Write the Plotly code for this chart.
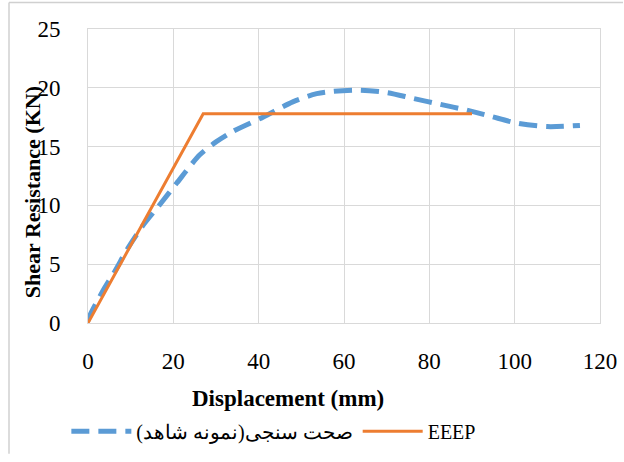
import plotly.graph_objects as go

# Validation (control specimen) curve
test_x = [0, 0.5, 3.6, 6.3, 9.4, 12.9, 16.9, 20.8, 26.2, 30, 34, 41, 48, 53.6, 57.4, 63.7, 70, 76.2, 82.5, 88.8, 94.2, 100.5, 107.6, 115.3]
test_y = [0.2, 0.7, 2.8, 4.4, 6.4, 8.3, 10.1, 11.9, 14.3, 15.4, 16.3, 17.5, 18.8, 19.5, 19.7, 19.8, 19.6, 19.1, 18.6, 18.1, 17.6, 17.0, 16.7, 16.8]

# EEEP bilinear curve
eeep_x = [0, 27, 90]
eeep_y = [0, 17.8, 17.8]

x_ticks = [0, 20, 40, 60, 80, 100, 120]
y_ticks = [0, 5, 10, 15, 20, 25]

series_names = ["صحت سنجی(نمونه شاهد)\u200f", "EEEP"]
x_title = "<b>Displacement (mm)</b>"
y_title = "<b>Shear Resistance (KN)</b>"

font_family = "Liberation Serif, Times New Roman, serif"
grid_col = "#d9d9d9"

fig = go.Figure()
fig.add_trace(go.Scatter(
    x=test_x, y=test_y, mode="lines", name=series_names[0],
    line=dict(color="#5B9BD5", width=5, dash="18px,9px", shape="spline", smoothing=0.8),
))
fig.add_trace(go.Scatter(
    x=eeep_x, y=eeep_y, mode="lines", name=series_names[1],
    line=dict(color="#ED7D31", width=3),
))

px = lambda v: (v - 88) / 512
py = lambda v: (328 - v) / 299
border = dict(color="#d0d0d0", width=1.5)

fig.update_layout(
    width=624, height=462,
    margin=dict(l=88, r=24, t=29, b=134),
    paper_bgcolor="white", plot_bgcolor="white",
    font=dict(family=font_family, size=23, color="black"),
    showlegend=True,
    legend=dict(orientation="h", x=0.363, xanchor="center", y=py(438), yanchor="middle",
                font=dict(size=20, family=font_family), itemwidth=60,
                bgcolor="rgba(0,0,0,0)"),
    xaxis=dict(range=[0, 120], tickvals=x_ticks, showgrid=True, gridcolor=grid_col, gridwidth=1,
               showline=True, linecolor=grid_col, linewidth=1, mirror=True, zeroline=False,
               ticks="", ticklabelstandoff=17, automargin=False),
    yaxis=dict(range=[0, 25], tickvals=y_ticks, showgrid=True, gridcolor=grid_col, gridwidth=1,
               showline=True, linecolor=grid_col, linewidth=1, mirror=True, zeroline=False,
               ticks="", ticklabelstandoff=22, automargin=False),
    annotations=[
        dict(text=x_title, xref="paper", yref="paper", x=px(288), y=py(405),
             xanchor="center", yanchor="middle", showarrow=False, font=dict(size=23)),
        dict(text=y_title, xref="paper", yref="paper", x=px(32), y=py(195),
             xanchor="center", yanchor="middle", showarrow=False, textangle=-90, font=dict(size=22)),
    ],
    shapes=[
        dict(type="line", xref="paper", yref="paper", x0=px(9), x1=px(9), y0=py(2), y1=py(461),
             line=border, layer="above"),
        dict(type="line", xref="paper", yref="paper", x0=px(9), x1=px(623), y0=py(2), y1=py(2),
             line=border, layer="above"),
    ],
)

fig.write_html("out.html", config={"displayModeBar": False},
               post_script="document.body.style.margin='0';")
